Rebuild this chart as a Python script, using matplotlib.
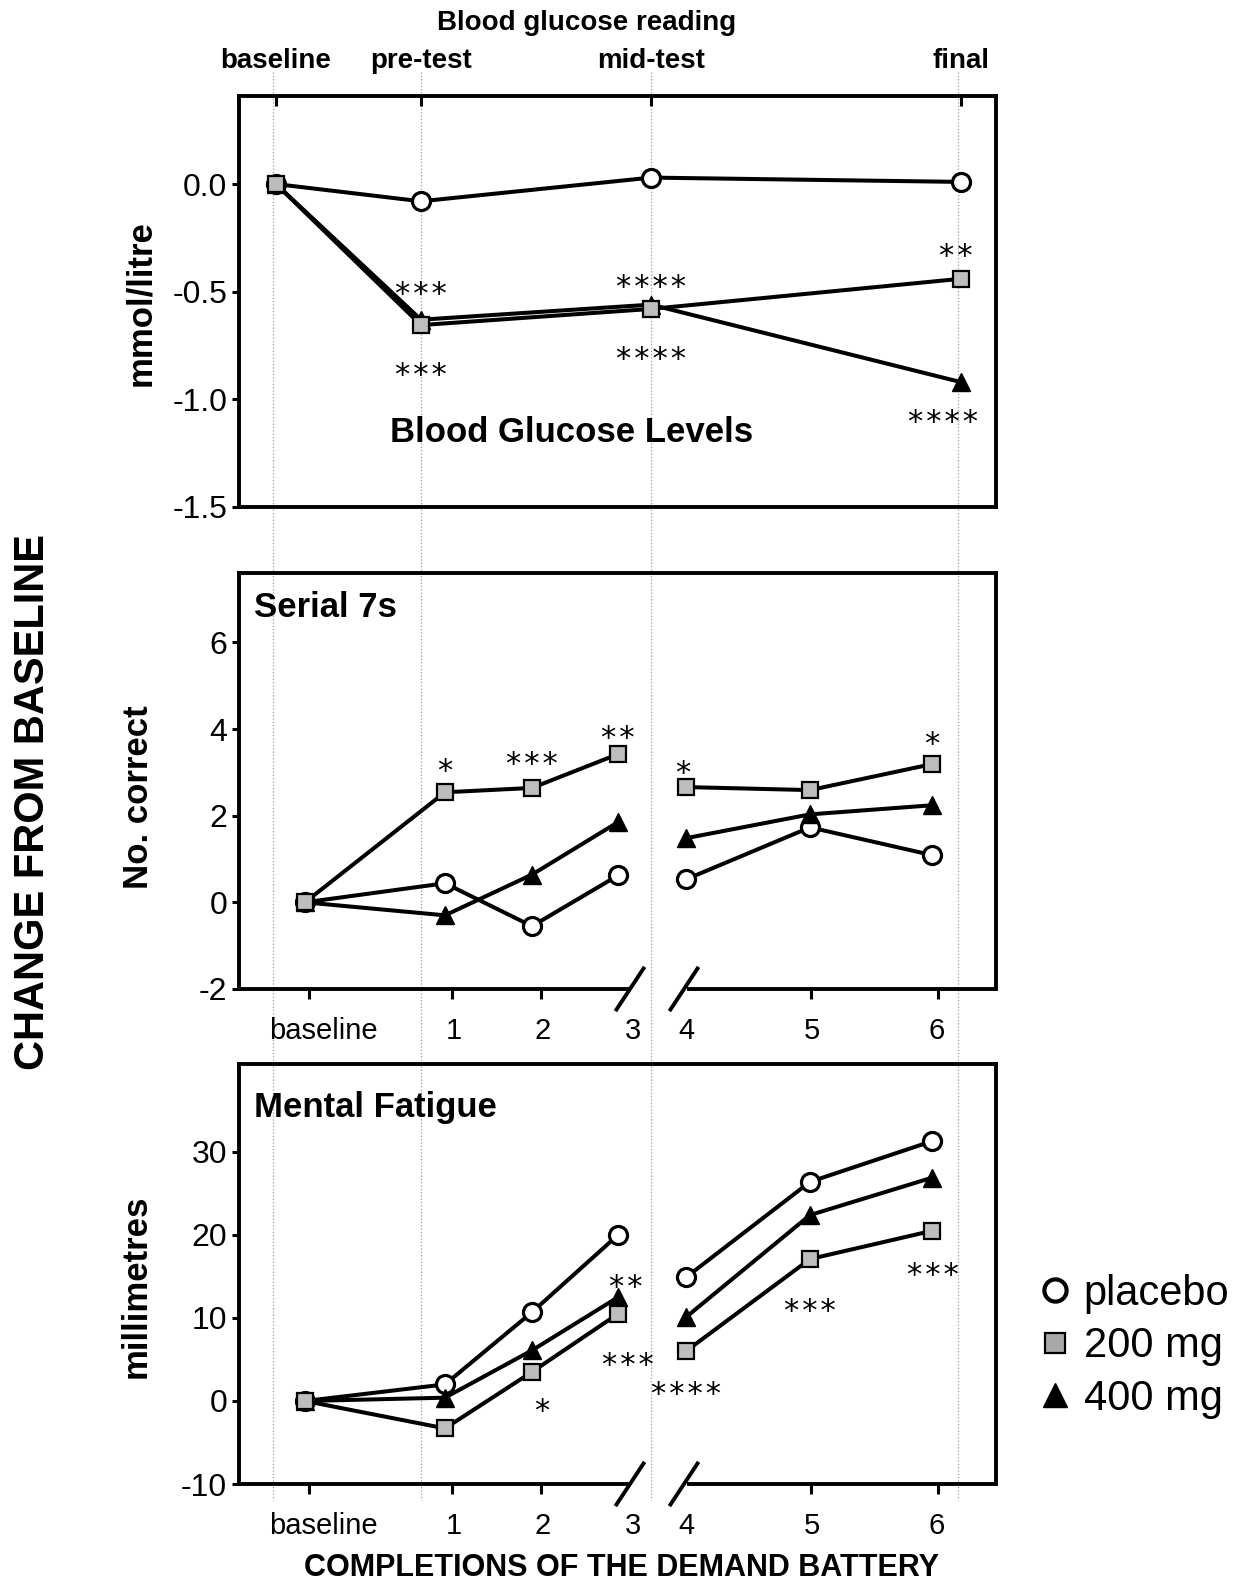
import matplotlib
matplotlib.use("Agg")
import matplotlib.pyplot as plt
from matplotlib.lines import Line2D

plt.rcParams['font.family'] = ['Liberation Sans', 'DejaVu Sans']
plt.rcParams['axes.unicode_minus'] = False

# ---- data ----
glucose_points = ['baseline', 'pre-test', 'mid-test', 'final']
glucose_placebo = [0.0, -0.08, 0.03, 0.01]
glucose_200 = [0.0, -0.655, -0.58, -0.44]
glucose_400 = [0.0, -0.63, -0.56, -0.92]

completions = ['baseline', '1', '2', '3', '4', '5', '6']
serial_placebo = [0.0, 0.44, -0.55, 0.62, 0.53, 1.73, 1.09]
serial_200 = [0.0, 2.54, 2.64, 3.42, 2.66, 2.59, 3.19]
serial_400 = [0.0, -0.30, 0.64, 1.85, 1.48, 2.03, 2.24]

fatigue_placebo = [0.0, 2.0, 10.7, 20.0, 14.9, 26.4, 31.3]
fatigue_200 = [0.0, -3.3, 3.5, 10.5, 6.0, 17.1, 20.5]
fatigue_400 = [0.0, 0.4, 6.1, 12.5, 10.1, 22.4, 26.9]

# significance marks: (point index, value, stars)
glucose_sig = [(1, -0.47, '***'), (1, -0.845, '***'), (2, -0.437, '****'),
               (2, -0.771, '****'), (3, -0.293, '**'), (3, -1.064, '****')]
serial_sig = [(1, 3.24, '*'), (2, 3.40, '***'), (3, 4.0, '**'), (4, 3.19, '*'), (6, 3.86, '*')]
fatigue_sig = [(3, 14.9, '**'), (3, 5.5, '***'), (2, -0.1, '*'), (4, 1.9, '****'),
               (5, 11.9, '***'), (6, 16.3, '***')]
# small horizontal nudges of the star marks (pixels)
glucose_sig_dx = [0, 0, 0, 0, -5, -18]
serial_sig_dx = [0, 0, 0, -3, 0]
fatigue_sig_dx = [8, 10, 10, 0, 0, 1]

groups = ['placebo', '200 mg', '400 mg']

# ---- layout (figure pixels) ----
W, H = 1248, 1582
X0, X1 = 239, 996
glucose_x = [276, 421, 651, 961]
batt_x = [305, 445, 532, 618, 686, 810, 932]
batt_label_x = [323, 454, 543, 633, 686, 812, 937]
guide_x = [273, 421, 651, 958]

styles = {
    'placebo': dict(marker='o', mfc='white', mec='black', ms=13, mew=2.3),
    '200 mg': dict(marker='s', mfc='#bdbdbd', mec='black', ms=11, mew=1.6),
    '400 mg': dict(marker='^', mfc='black', mec='black', ms=13, mew=1),
}
LW = 2.9
SPINE = 2.8


def box(l, t, r, b):
    return [l / W, 1 - b / H, (r - l) / W, (b - t) / H]


fig = plt.figure(figsize=(W / 100, H / 100), dpi=100)

for gx in guide_x:
    fig.add_artist(Line2D([gx / W, gx / W], [1 - 72 / H, 1 - 1500 / H], transform=fig.transFigure,
                          color='#9a9a9a', ls=':', lw=0.9, zorder=-1))

ax1 = fig.add_axes(box(X0, 96, X1, 507))
ax2 = fig.add_axes(box(X0, 573, X1, 989))
ax3 = fig.add_axes(box(X0, 1064, X1, 1484))

for ax in (ax1, ax2, ax3):
    ax.set_facecolor('none')
    ax.set_xlim(X0, X1)
    for s in ax.spines.values():
        s.set_linewidth(SPINE)
    ax.tick_params(axis='y', direction='out', length=5, width=2.2, labelsize=23, pad=3.5)


def stars(ax, xs, marks, nudges):
    for (i, v, s), dx in zip(marks, nudges):
        ax.annotate('\u200a'.join(s), (xs[i], v), xytext=(dx * 0.72, -7.0), textcoords='offset points',
                    ha='center', va='center', fontsize=22, family='DejaVu Sans')


# ---- blood glucose ----
for g, vals in [('placebo', glucose_placebo), ('400 mg', glucose_400), ('200 mg', glucose_200)]:
    ax1.plot(glucose_x, vals, color='black', lw=LW, **styles[g], clip_on=False)
ax1.set_ylim(-1.5, 0.409)
ax1.set_yticks([0.0, -0.5, -1.0, -1.5], ['0.0', '-0.5', '-1.0', '-1.5'])
ax1.xaxis.tick_top()
ax1.set_xticks(glucose_x, glucose_points, fontweight='bold')
ax1.tick_params(axis='x', direction='in', length=7, width=2.2, labelsize=20, pad=16)
stars(ax1, glucose_x, glucose_sig, glucose_sig_dx)
ax1.text(572, -1.155, 'Blood Glucose Levels', ha='center', va='center', fontsize=25, fontweight='bold')
fig.text(587 / W, 1 - 23 / H, 'Blood glucose reading', ha='center', va='center', fontsize=20, fontweight='bold')


# ---- battery panels ----
def battery(ax, series, ylim, yticks, title, title_y, sig, sig_dx):
    for g, vals in series:
        ax.plot(batt_x[:4], vals[:4], color='black', lw=LW, **styles[g])
        ax.plot(batt_x[4:], vals[4:], color='black', lw=LW, **styles[g])
    ax.set_ylim(*ylim)
    ax.set_yticks(yticks, [str(t) for t in yticks])
    ax.set_xticks([batt_x[i] + d for i, d in [(0, 4), (1, 7), (2, 9), (5, 1), (6, 6)]], [])
    ax.set_xticks(batt_label_x, completions, minor=True)
    ax.tick_params(axis='x', which='major', direction='out', length=7, width=2.2)
    ax.tick_params(axis='x', which='minor', length=0, labelsize=21, pad=20)
    ax.spines['bottom'].set_visible(False)
    tr = ax.get_xaxis_transform()
    hpx = ax.get_position().height * H
    dy = 20.5 / hpx
    ax.plot([X0, 630], [0, 0], transform=tr, color='black', lw=SPINE, clip_on=False, solid_capstyle='butt')
    ax.plot([687, X1], [0, 0], transform=tr, color='black', lw=SPINE, clip_on=False, solid_capstyle='butt')
    for cx in (630, 684):
        ax.plot([cx - 13.5, cx + 13.5], [-dy, dy], transform=tr, color='black', lw=SPINE, clip_on=False)
    ax.text(X0 + 15, title_y, title, ha='left', va='center', fontsize=25, fontweight='bold')
    stars(ax, batt_x, sig, sig_dx)


battery(ax2, [('placebo', serial_placebo), ('400 mg', serial_400), ('200 mg', serial_200)],
        (-2, 7.6), [-2, 0, 2, 4, 6], 'Serial 7s', 6.8, serial_sig, serial_sig_dx)
battery(ax3, [('placebo', fatigue_placebo), ('400 mg', fatigue_400), ('200 mg', fatigue_200)],
        (-10, 40.6), [-10, 0, 10, 20, 30], 'Mental Fatigue', 35.3, fatigue_sig, fatigue_sig_dx)

# ---- axis labels ----
fig.text(141 / W, 1 - 303 / H, 'mmol/litre', rotation=90, ha='center', va='center', fontsize=25, fontweight='bold')
fig.text(138 / W, 1 - 797 / H, 'No. correct', rotation=90, ha='center', va='center', fontsize=25, fontweight='bold')
fig.text(136 / W, 1 - 1286 / H, 'millimetres', rotation=90, ha='center', va='center', fontsize=25, fontweight='bold')
fig.text(33 / W, 1 - 802 / H, 'CHANGE FROM BASELINE', rotation=90, ha='center', va='center',
         fontsize=30, fontweight='bold')
fig.text(622 / W, 1 - 1568 / H, 'COMPLETIONS OF THE DEMAND BATTERY', ha='center', va='center',
         fontsize=22, fontweight='bold')

# ---- legend ----
handles = [Line2D([], [], ls='none', **dict(styles['placebo'], ms=16, mew=3)),
           Line2D([], [], ls='none', **dict(styles['200 mg'], mfc='#a8a8a8', ms=14)),
           Line2D([], [], ls='none', **dict(styles['400 mg'], ms=17))]
fig.legend(handles, groups, loc='upper left', bbox_to_anchor=(1040 / W, 1 - 1274 / H), frameon=False,
           fontsize=30, handlelength=0.7, handletextpad=0.35, labelspacing=0.3, borderpad=0, borderaxespad=0)

fig.savefig('out.png', dpi=100)
